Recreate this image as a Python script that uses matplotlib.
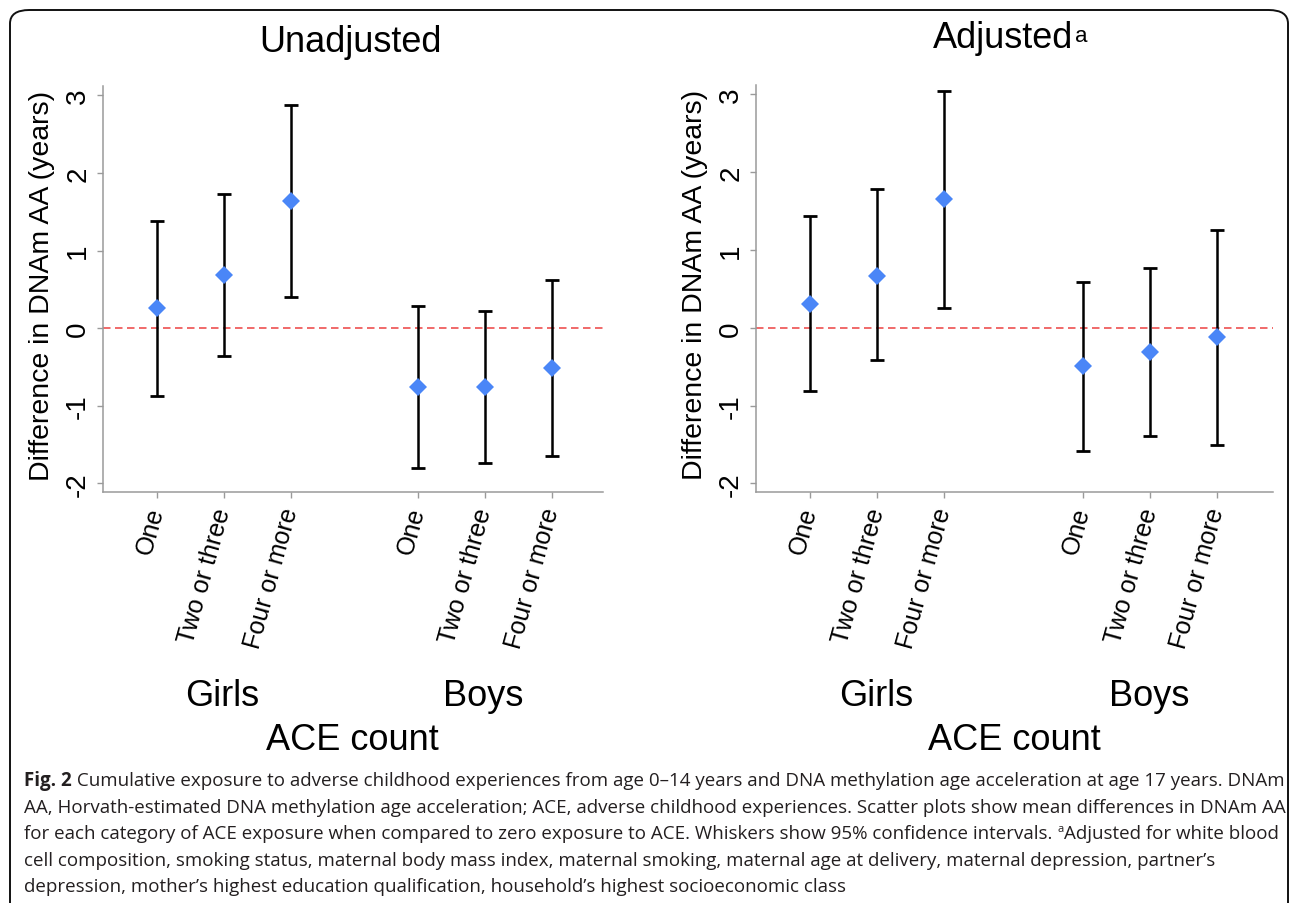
"""Mean difference in DNAm AA by ACE count, girls vs boys, unadjusted and adjusted."""

import matplotlib
matplotlib.use("Agg")
import matplotlib.pyplot as plt
from matplotlib.patches import FancyBboxPatch

# ── Data ──────────────────────────────────────────────────────────────────────
CATEGORIES = ["One", "Two or three", "Four or more",
              "One", "Two or three", "Four or more"]
GROUPS = ["Girls", "Boys"]
XPOS_UNADJ = [1, 2, 3, 4.9, 5.9, 6.9]
XPOS_ADJ   = [1, 2, 3, 5.07, 6.07, 7.07]

UNADJ_MEAN = [0.26, 0.68, 1.64, -0.76, -0.76, -0.51]
UNADJ_LO   = [-0.87, -0.36, 0.40, -1.80, -1.74, -1.65]
UNADJ_HI   = [1.38, 1.73, 2.88, 0.28, 0.22, 0.62]

ADJ_MEAN = [0.31, 0.67, 1.65, -0.49, -0.31, -0.12]
ADJ_LO   = [-0.81, -0.42, 0.25, -1.58, -1.39, -1.50]
ADJ_HI   = [1.44, 1.78, 3.04, 0.59, 0.77, 1.26]

CAPTION = [
    [("Fig. 2", "bold"), (" Cumulative exposure to adverse childhood experiences from age 0\u201314 years and DNA methylation age acceleration at age 17 years. DNAm", "normal")],
    [("AA, Horvath-estimated DNA methylation age acceleration; ACE, adverse childhood experiences. Scatter plots show mean differences in DNAm AA", "normal")],
    [("for each category of ACE exposure when compared to zero exposure to ACE. Whiskers show 95% confidence intervals. ", "normal"), ("a", "sup"), ("Adjusted for white blood", "normal")],
    [("cell composition, smoking status, maternal body mass index, maternal smoking, maternal age at delivery, maternal depression, partner\u2019s", "normal")],
    [("depression, mother\u2019s highest education qualification, household\u2019s highest socioeconomic class", "normal")],
]

# ── Style ─────────────────────────────────────────────────────────────────────
W, H = 1290, 904
BLUE = "#4A86F7"
RED  = "#EE5050"
GREY = "#9A9A9A"
CAP_FONT = ["Open Sans", "DejaVu Sans"]

plt.rcParams.update({
    "font.family": ["Liberation Sans", "DejaVu Sans"],
    "axes.spines.top": False,
    "axes.spines.right": False,
})

fig = plt.figure(figsize=(W / 100, H / 100), dpi=100)


def px(x, y):
    """Pixel coords (top-left origin) -> figure fraction."""
    return x / W, 1 - y / H


def draw_panel(left, top, right, bottom, xpos, xlim, mean, lo, hi):
    width = right - left
    ax = fig.add_axes([left / W, 1 - bottom / H, width / W, (bottom - top) / H])
    ax.axhline(0, color=RED, lw=1.2, ls=(0, (4.5, 2.7)), zorder=1)
    yerr = [[m - l for m, l in zip(mean, lo)], [h - m for m, h in zip(mean, hi)]]
    ax.errorbar(xpos, mean, yerr=yerr, fmt="none", ecolor="black",
                elinewidth=1.8, capsize=4.8, capthick=2.0, zorder=2)
    ax.plot(xpos, mean, ls="none", marker="D", ms=9.5, color=BLUE,
            markeredgewidth=0, zorder=3)
    ax.set_xlim(*xlim)
    ax.set_ylim(-2.11, 3.12)
    ax.set_yticks([-2, -1, 0, 1, 2, 3])
    ax.set_yticklabels(["-2", "-1", "0", "1", "2", "3"])
    ax.set_xticks(xpos)
    ax.set_xticklabels(CATEGORIES, rotation=74.5, ha="right", va="center",
                       rotation_mode="anchor", fontsize=18)
    ax.tick_params(axis="y", labelrotation=90, labelsize=20, pad=4)
    ax.tick_params(axis="x", pad=7)
    for lab in ax.get_yticklabels():
        lab.set_va("center")
    ax.tick_params(length=4.5, width=1, color=GREY)
    for sp in ("left", "bottom"):
        ax.spines[sp].set_color(GREY)
        ax.spines[sp].set_linewidth(1.1)
    ax.set_ylabel("Difference in DNAm AA (years)", fontsize=20.5, va="center")
    ax.yaxis.set_label_coords(-61 / width, 0.51)
    return ax


ax1 = draw_panel(103, 87, 603, 493, XPOS_UNADJ, (0.194, 7.67),
                 UNADJ_MEAN, UNADJ_LO, UNADJ_HI)
ax2 = draw_panel(756, 86, 1273, 493, XPOS_ADJ, (0.195, 7.9),
                 ADJ_MEAN, ADJ_LO, ADJ_HI)

# titles
fig.text(*px(350, 52), "Unadjusted", fontsize=26, ha="center", va="baseline")
fig.text(*px(1003, 48), "Adjusted", fontsize=26, ha="center", va="baseline")
fig.text(*px(1075, 42), "a", fontsize=16, ha="left", va="baseline")

# group and axis titles
for gx, bx, ax_c in [(222, 483, 352), (876, 1149, 1014)]:
    fig.text(*px(gx, 697), GROUPS[0], fontsize=26, ha="center", va="center")
    fig.text(*px(bx, 697), GROUPS[1], fontsize=26, ha="center", va="center")
    fig.text(*px(ax_c, 740), "ACE count", fontsize=26, ha="center", va="center")

# frame
frame = FancyBboxPatch((10 / W, -0.05), 1278 / W, 1.05 - 11 / H,
                       boxstyle="round,pad=0,rounding_size=0.015",
                       transform=fig.transFigure, fill=False,
                       edgecolor="#111111", lw=1.4, zorder=0)
fig.patches.append(frame)

# caption, fitted to the full-width first line
renderer = fig.canvas.get_renderer()


def line_width(segs, size):
    total = 0.0
    for txt, kind in segs:
        t = fig.text(0, 0, txt, fontsize=size * (0.6 if kind == "sup" else 1),
                     family=CAP_FONT, weight="bold" if kind == "bold" else "normal")
        total += t.get_window_extent(renderer).width
        t.remove()
    return total


size0 = 12.0
cap_size = size0 * 1258 / line_width(CAPTION[0], size0)

for i, segs in enumerate(CAPTION):
    x = 24.0
    base = 786.5 + i * 26.5
    for txt, kind in segs:
        sz = cap_size * (0.6 if kind == "sup" else 1)
        y = base - (7 if kind == "sup" else 0)
        t = fig.text(*px(x, y), txt, fontsize=sz, family=CAP_FONT,
                     weight="bold" if kind == "bold" else "normal",
                     ha="left", va="baseline", color="#231F20")
        x += t.get_window_extent(renderer).width

fig.savefig("out.png", dpi=100)
